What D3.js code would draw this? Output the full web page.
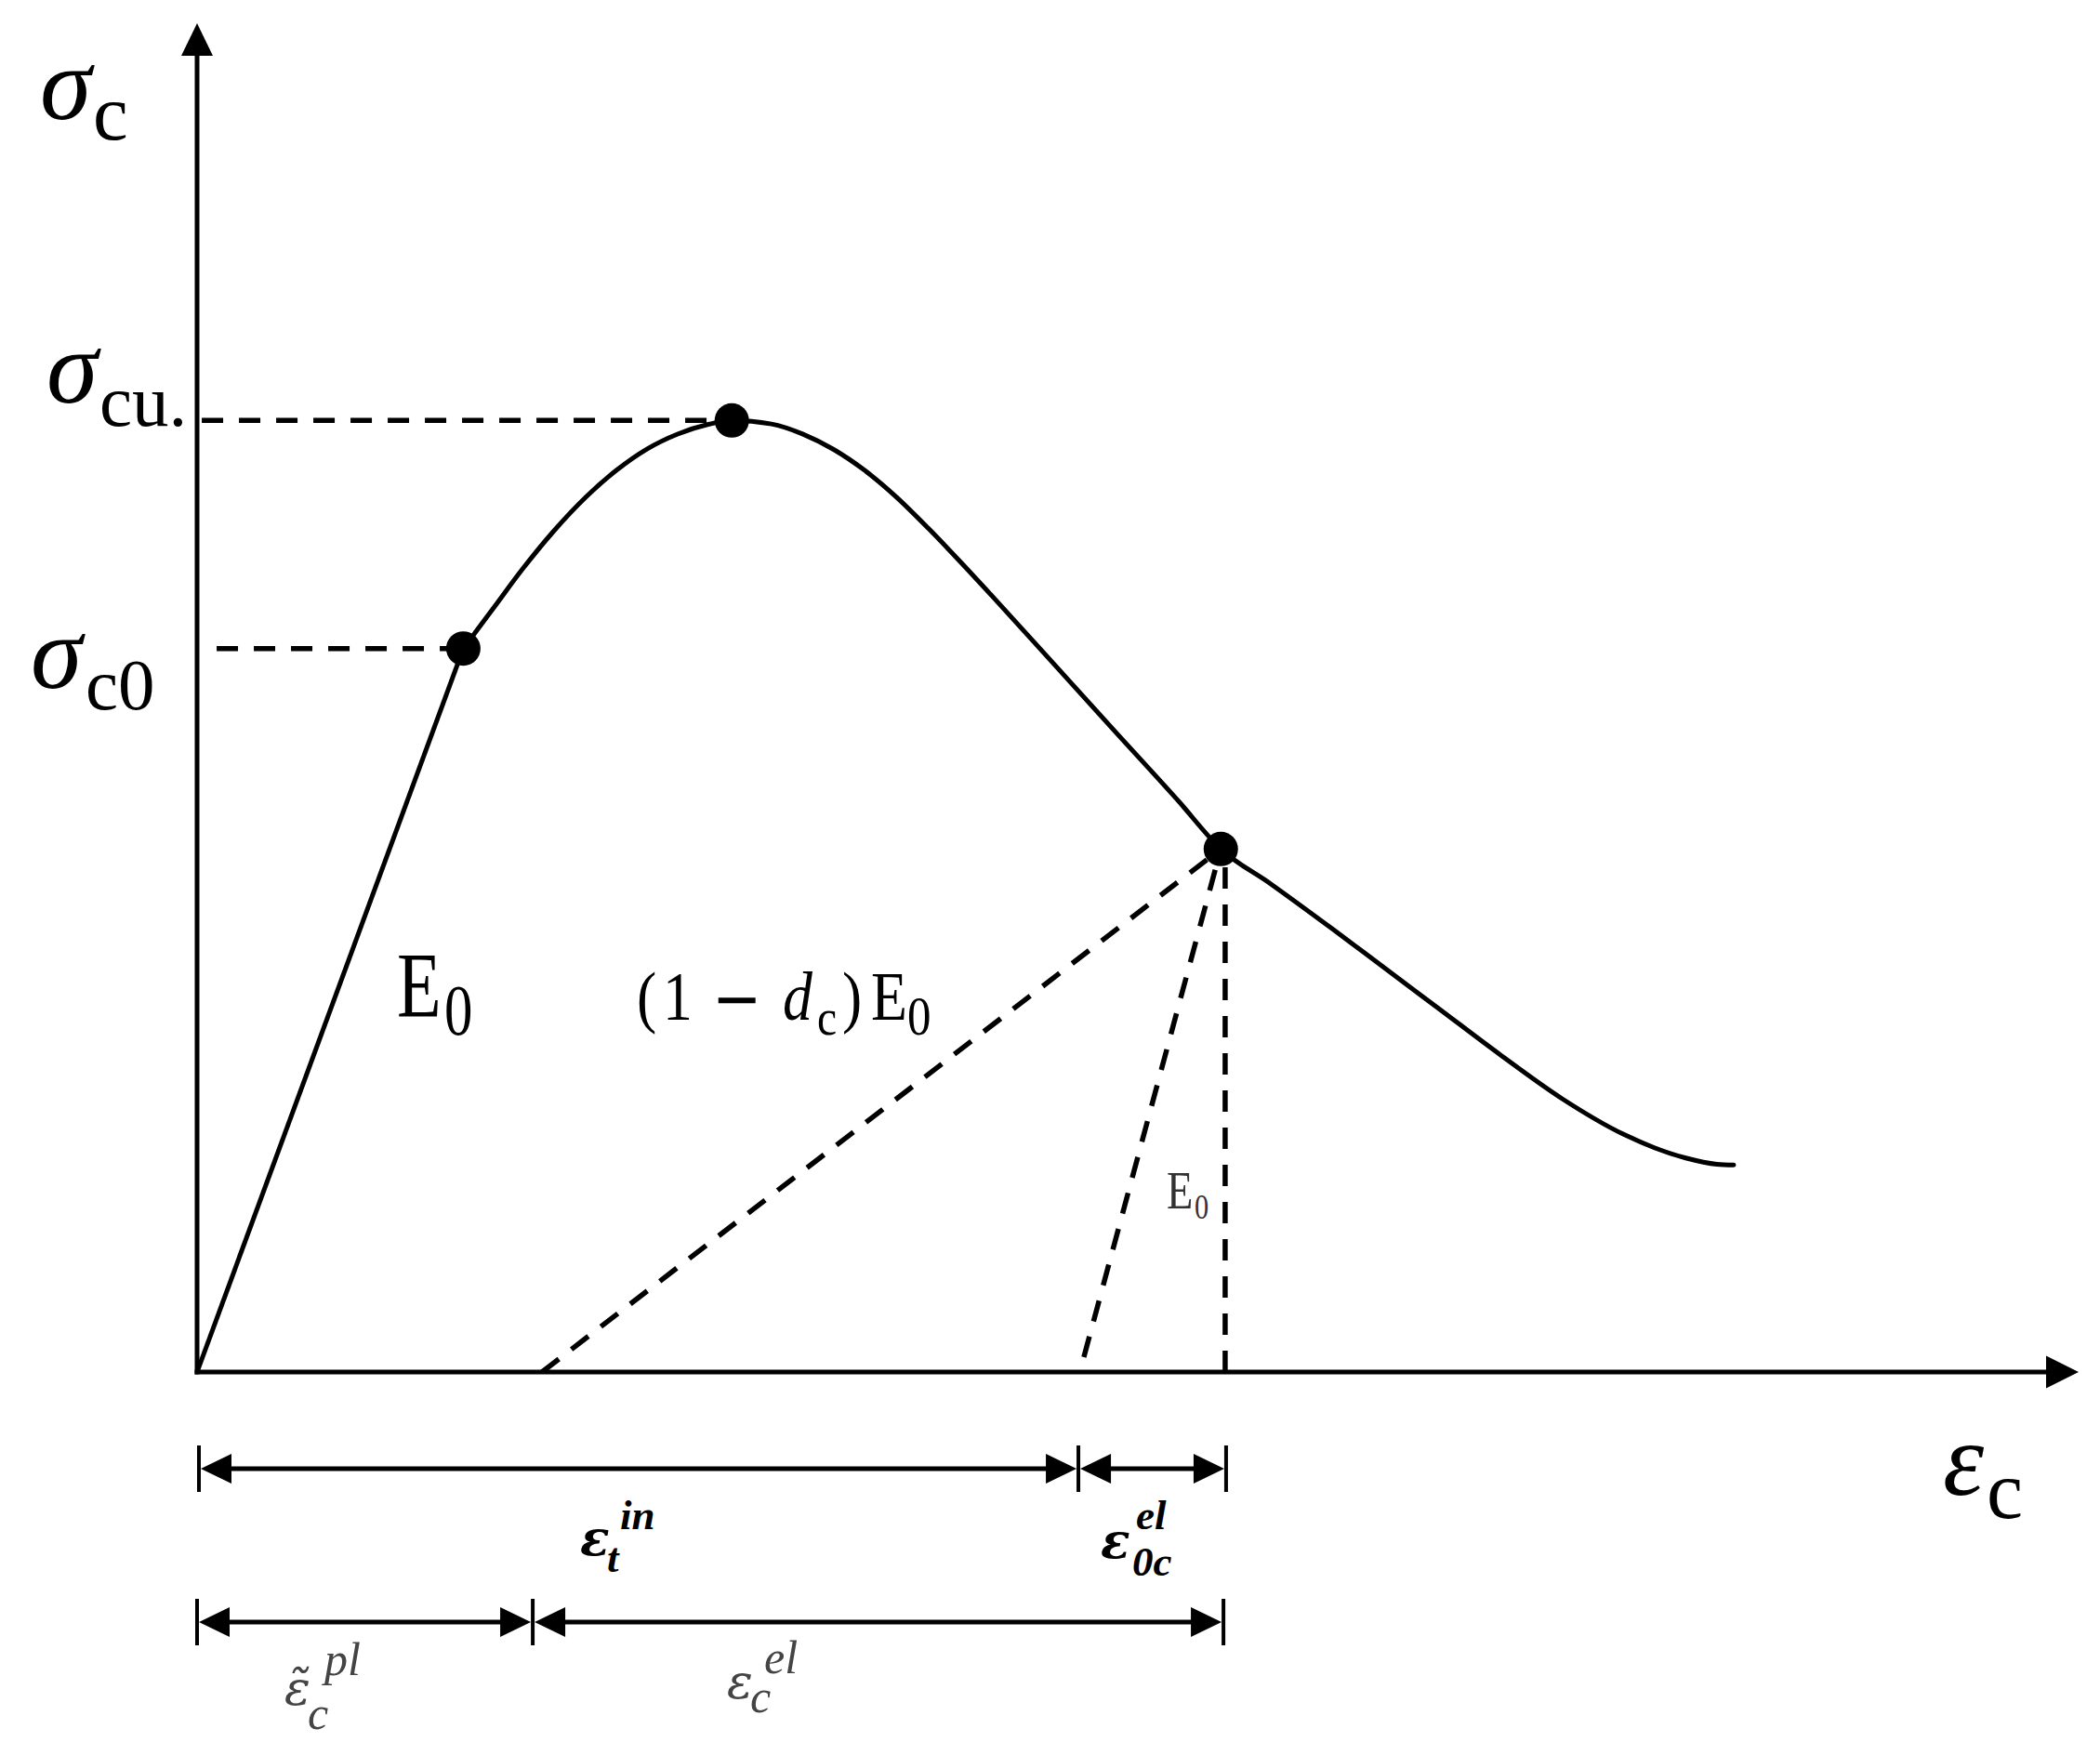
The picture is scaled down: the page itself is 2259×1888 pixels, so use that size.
<!DOCTYPE html>
<html><head><meta charset="utf-8">
<script src="https://cdn.jsdelivr.net/npm/d3@7"></script>
<style>
html,body{margin:0;padding:0;background:#fff;}
svg{display:block;}
text{font-family:"Liberation Serif","DejaVu Serif",serif;}
</style>
</head><body>
<svg id="chart" width="2259" height="1888"></svg>
<script>
// ---------- data (strain, stress in arbitrary normalised units) ----------
const linearBranch = [[0, 0], [14.15, 53.64]];
const softeningCurve = [
  [14.15, 53.64], [15.72, 56.58], [17.34, 59.61], [18.97, 62.37], [20.65, 64.85],
  [22.28, 66.85], [23.91, 68.43], [25.54, 69.54], [27.17, 70.26], [28.42, 70.55],
  [30.53, 70.29], [32.18, 69.55], [33.83, 68.40], [35.47, 66.86], [37.12, 64.93],
  [38.85, 62.57], [40.56, 60.08], [42.23, 57.57], [45.52, 52.52], [48.81, 47.46],
  [52.11, 42.41], [54.41, 38.78], [57.05, 36.20], [60.34, 32.85], [62.65, 30.44],
  [65.94, 27.00], [69.23, 23.55], [72.53, 20.28], [75.82, 17.62], [79.12, 15.87],
  [80.77, 15.41], [81.67, 15.35]
];
const keyStrain = [14.15, 28.42, 54.41];
const keyStress = [53.64, 70.55, 38.78];
const levelFrom = [1.04, 0.25];          // start of dashed guides for σc0, σcu
const unloadDamaged = [[18.33, 0], [54.41, 38.78]];
const unloadElastic = [[47.13, 1.10], [54.41, 38.78]];
const dropLine = [[54.64, 0], [54.64, 38.78]];
const dimRow1 = [0.1, 46.84, 54.69];
const dimRow2 = [0, 17.84, 54.55];

// ---------- layout ----------
const svg = d3.select("#chart");
const x = d3.scaleLinear().domain([0, 100]).range([212, 2236]);
const y = d3.scaleLinear().domain([0, 100]).range([1476, 25]);
const line = d3.line().x(d => x(d[0])).y(d => y(d[1]));
const smooth = d3.line().x(d => x(d[0])).y(d => y(d[1])).curve(d3.curveMonotoneX);

// axes
const AX = 5;
svg.append("line").attr("x1", x(0)).attr("y1", y(0) + 2.5).attr("x2", x(0)).attr("y2", y(100) + 33)
  .attr("stroke", "#000").attr("stroke-width", AX);
svg.append("path").attr("d", `M${x(0)},${y(100)} L${x(0) - 17},${y(100) + 35} L${x(0) + 17},${y(100) + 35} Z`).attr("fill", "#000");
svg.append("line").attr("x1", x(0) - 2.5).attr("y1", y(0)).attr("x2", x(100) - 33).attr("y2", y(0))
  .attr("stroke", "#000").attr("stroke-width", AX);
svg.append("path").attr("d", `M${x(100)},${y(0)} L${x(100) - 35},${y(0) - 17.5} L${x(100) - 35},${y(0) + 17.5} Z`).attr("fill", "#000");

// dashed guides
const dash = {"stroke": "#000", "stroke-width": 5.5, "stroke-dasharray": "23,17", "fill": "none"};
function applyAttrs(sel, a) { for (const k in a) sel.attr(k, a[k]); return sel; }
[0, 1].forEach(i => {
  applyAttrs(svg.append("path").attr("d", line([[levelFrom[i], keyStress[i]], [keyStrain[i], keyStress[i]]])), dash);
});
applyAttrs(svg.append("path").attr("d", line(unloadDamaged)), dash);
applyAttrs(svg.append("path").attr("d", line(unloadElastic)), dash);
applyAttrs(svg.append("path").attr("d", line(dropLine)), dash);

// curve
svg.append("path").attr("d", line(linearBranch)).attr("fill", "none").attr("stroke", "#000").attr("stroke-width", 5);
svg.append("path").attr("d", smooth(softeningCurve))
  .attr("fill", "none").attr("stroke", "#000").attr("stroke-width", 5).attr("stroke-linecap", "round");

// key points
svg.selectAll("circle.key").data(keyStrain).enter().append("circle")
  .attr("cx", d => x(d)).attr("cy", (d, i) => y(keyStress[i])).attr("r", 18.5).attr("fill", "#000");

// dimension rows
function dimRow(ticks, py) {
  const g = svg.append("g");
  ticks.forEach(t => {
    g.append("line").attr("x1", x(t)).attr("x2", x(t)).attr("y1", py - 25).attr("y2", py + 25)
      .attr("stroke", "#000").attr("stroke-width", 4);
  });
  for (let i = 0; i < ticks.length - 1; i++) {
    const a = x(ticks[i]) + 2, b = x(ticks[i + 1]) - 2;
    g.append("line").attr("x1", a + 20).attr("x2", b - 20).attr("y1", py).attr("y2", py)
      .attr("stroke", "#000").attr("stroke-width", 5);
    g.append("path").attr("d", `M${a},${py} L${a + 33},${py - 16} L${a + 33},${py + 16} Z`).attr("fill", "#000");
    g.append("path").attr("d", `M${b},${py} L${b - 33},${py - 16} L${b - 33},${py + 16} Z`).attr("fill", "#000");
  }
}
dimRow(dimRow1, 1580);
dimRow(dimRow2, 1745);

// labels: one text element per label, tspans placed absolutely
function label(parts, opt) {
  opt = opt || {};
  const sx = opt.sx || 1, x0 = parts[0].x;
  const t = svg.append("text").attr("transform", `translate(${x0},0) scale(${sx},1)`)
    .attr("fill", opt.c || "#000")
    .attr("font-weight", opt.b ? "bold" : "normal");
  parts.forEach(p => {
    const ts = t.append("tspan").attr("x", (p.x - x0) / sx).attr("y", p.y)
      .attr("font-size", p.s).attr("font-style", p.it ? "italic" : "normal").text(p.t);
    if (p.f) ts.attr("font-family", p.f);
  });
}
const DV = "DejaVu Serif";
label([{t: "σ", x: 43, y: 128, s: 112, it: 1}, {t: "c", x: 100, y: 150, s: 85}]);
label([{t: "σ", x: 50, y: 433, s: 112, it: 1}, {t: "cu.", x: 107, y: 458, s: 79}]);
label([{t: "σ", x: 33, y: 740, s: 112, it: 1}, {t: "c0", x: 92, y: 763, s: 79}]);
label([{t: "ε", x: 2090, y: 1608, s: 112, it: 1}, {t: "c", x: 2137, y: 1633, s: 88}]);
label([{t: "E", x: 427, y: 1093, s: 100}, {t: "0", x: 478, y: 1113, s: 78}], {sx: 0.78});
label([{t: "(", x: 685, y: 1097, s: 75}, {t: "1", x: 713, y: 1097, s: 75},
       {t: "−", x: 766, y: 1100, s: 75, f: DV}, {t: "d", x: 842, y: 1097, s: 75, it: 1},
       {t: "c", x: 879, y: 1113, s: 56}, {t: ")", x: 906, y: 1097, s: 75},
       {t: "E", x: 937, y: 1097, s: 75}, {t: "0", x: 976, y: 1113, s: 60}], {sx: 0.85});
label([{t: "E", x: 1255, y: 1300, s: 58}, {t: "0", x: 1285, y: 1311, s: 38}], {sx: 0.8, c: "#333"});
label([{t: "ε", x: 624, y: 1673, s: 52, it: 1, f: DV}, {t: "t", x: 653, y: 1691, s: 45, it: 1},
       {t: "in", x: 667, y: 1645, s: 45, it: 1}], {b: 1});
label([{t: "ε", x: 1184, y: 1676, s: 52, it: 1, f: DV}, {t: "0c", x: 1218, y: 1695, s: 45, it: 1},
       {t: "el", x: 1222, y: 1645, s: 45, it: 1}], {b: 1});
label([{t: "ε\u0303", x: 306, y: 1834, s: 52, it: 1, f: DV},
       {t: "c", x: 331, y: 1860, s: 50, it: 1}, {t: "pl", x: 349, y: 1802, s: 50, it: 1}], {c: "#444"});
label([{t: "ε", x: 782, y: 1827, s: 52, it: 1, f: DV}, {t: "c", x: 807, y: 1842, s: 50, it: 1},
       {t: "el", x: 822, y: 1800, s: 50, it: 1}], {c: "#444"});
</script>
</body></html>
